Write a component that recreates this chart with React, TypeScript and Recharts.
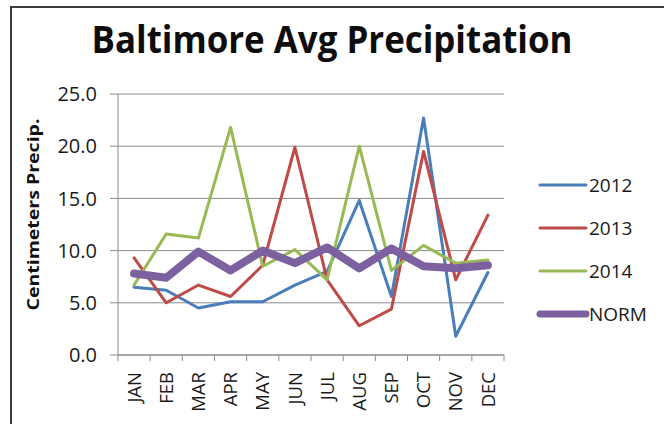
import React from "react"
import { CartesianGrid, Line, LineChart, XAxis, YAxis } from "recharts"

const MONTHS = ["JAN", "FEB", "MAR", "APR", "MAY", "JUN", "JUL", "AUG", "SEP", "OCT", "NOV", "DEC"]
const Y2012 = [6.5, 6.2, 4.5, 5.1, 5.1, 6.7, 8.0, 14.8, 5.6, 22.7, 1.8, 7.9]
const Y2013 = [9.3, 5.0, 6.7, 5.6, 8.6, 19.9, 7.2, 2.8, 4.4, 19.5, 7.2, 13.4]
const Y2014 = [6.7, 11.6, 11.2, 21.8, 8.5, 10.1, 7.2, 20.0, 8.1, 10.5, 8.8, 9.1]
const NORM = [7.8, 7.4, 9.9, 8.1, 10.0, 8.8, 10.3, 8.3, 10.2, 8.5, 8.3, 8.6]
const Y_TICKS = [0, 5, 10, 15, 20, 25]

const SERIES = [
  { key: "y2012", label: "2012", color: "#4a7ebb", width: 3 },
  { key: "y2013", label: "2013", color: "#be4b48", width: 3 },
  { key: "y2014", label: "2014", color: "#98b954", width: 3 },
  { key: "norm", label: "NORM", color: "#7d60a0", width: 8 },
]

const data = MONTHS.map((m, i) => ({
  month: m,
  y2012: Y2012[i],
  y2013: Y2013[i],
  y2014: Y2014[i],
  norm: NORM[i],
}))

const FONT = "'Open Sans', 'DejaVu Sans', sans-serif"
const GRID = "#8a8a8a"
const W = 664
const H = 424
const MARGIN = { top: 94, right: 160, bottom: 9, left: 58 }
const Y_W = 60
const STEP = (W - MARGIN.left - Y_W - MARGIN.right) / MONTHS.length

function MonthTick(props: any) {
  const { x, y, payload, index } = props
  const axisY = y - 8 - 4
  const half = STEP / 2
  return (
    <g>
      <line x1={x - half} x2={x - half} y1={axisY} y2={axisY + 6} stroke={GRID} />
      {index === MONTHS.length - 1 && (
        <line x1={x + half} x2={x + half} y1={axisY} y2={axisY + 6} stroke={GRID} />
      )}
      <text
        x={x}
        y={axisY + 17}
        transform={`rotate(-90, ${x}, ${axisY + 17})`}
        textAnchor="end"
        dy="0.36em"
        fontFamily={FONT}
        fontSize={18.5}
        fill="#1a1a1a"
      >
        {payload.value}
      </text>
    </g>
  )
}

function LegendBox() {
  return (
    <svg width={120} height={170}>
      {SERIES.map((s, i) => (
        <g key={s.key}>
          <line
            x1={4}
            x2={50}
            y1={17 + i * 43}
            y2={17 + i * 43}
            stroke={s.color}
            strokeWidth={s.key === "norm" ? 7 : 3}
            strokeLinecap="round"
          />
          <text x={53} y={17 + i * 43} dy="0.36em" fontFamily={FONT} fontSize={19} fill="#1a1a1a">
            {s.label}
          </text>
        </g>
      ))}
    </svg>
  )
}

function AxisTitle(props: any) {
  const { viewBox } = props
  const cx = 33
  const cy = viewBox.y + viewBox.height / 2 - 10
  return (
    <text
      x={cx}
      y={cy}
      transform={`rotate(-90, ${cx}, ${cy})`}
      textAnchor="middle"
      dy="0.36em"
      fontFamily={FONT}
      fontWeight="bold"
      fontSize={16}
      fill="#111"
      textLength={192}
      lengthAdjust="spacingAndGlyphs"
    >
      Centimeters Precip.
    </text>
  )
}

export default function App() {
  return (
    <div style={{ position: "absolute", left: 0, top: 0, width: W, height: H, background: "#fff", overflow: "hidden" }}>
      <div
        style={{
          position: "absolute",
          left: 10,
          top: 6,
          width: W,
          height: H,
          borderTop: "2px solid #3c3c3c",
          borderLeft: "2px solid #3c3c3c",
        }}
      />
      <svg width={W} height={70} style={{ position: "absolute", left: 0, top: 0 }}>
        <text
          x={332}
          y={53}
          textAnchor="middle"
          fontFamily={FONT}
          fontWeight="bold"
          fontSize={38}
          fill="#0d0d0d"
          textLength={481}
          lengthAdjust="spacingAndGlyphs"
        >
          Baltimore Avg Precipitation
        </text>
      </svg>
      <div style={{ position: "absolute", left: 0, top: 0 }}>
        <LineChart width={W} height={H} data={data} margin={MARGIN}>
          <CartesianGrid vertical={false} stroke={GRID} strokeWidth={1} />
          <XAxis
            dataKey="month"
            interval={0}
            height={60}
            padding={{ left: STEP / 2, right: STEP / 2 }}
            tickLine={false}
            tickSize={8}
            tickMargin={4}
            stroke={GRID}
            tick={<MonthTick />}
          />
          <YAxis
            width={Y_W}
            domain={[0, 25]}
            ticks={Y_TICKS}
            interval={0}
            tickSize={8}
            tickMargin={13}
            stroke={GRID}
            tickFormatter={(v: number) => v.toFixed(1)}
            tick={{ fontFamily: FONT, fontSize: 20, fill: "#1a1a1a" }}
            label={<AxisTitle />}
          />
          {SERIES.map((s) => (
            <Line
              key={s.key}
              type="linear"
              dataKey={s.key}
              name={s.label}
              stroke={s.color}
              strokeWidth={s.width}
              strokeLinejoin="round"
              strokeLinecap="round"
              dot={false}
              isAnimationActive={false}
            />
          ))}
        </LineChart>
      </div>
      <div style={{ position: "absolute", left: 536, top: 168 }}>
        <LegendBox />
      </div>
    </div>
  )
}
